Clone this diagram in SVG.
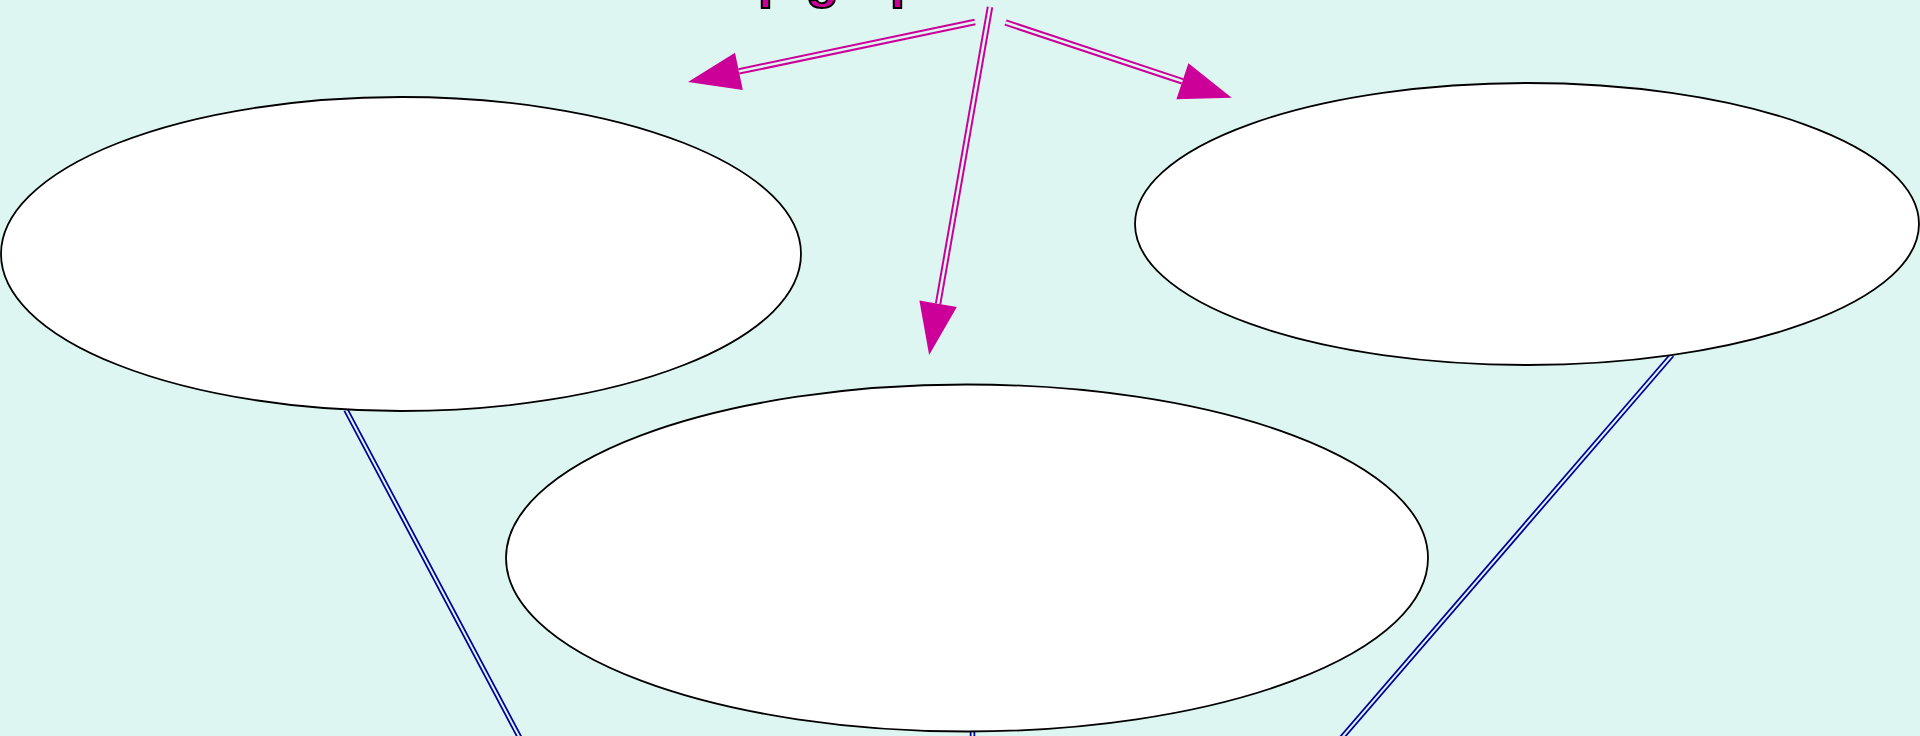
<svg xmlns="http://www.w3.org/2000/svg" width="1920" height="736" viewBox="0 0 1920 736">
<style>
.bg{fill:#ddf6f1}
.node{fill:#ffffff;stroke:#000000;stroke-width:1.8}
.arrowOuter{fill:none;stroke:#cc0099;stroke-width:6.5}
.arrowInner{fill:none;stroke:#ddf6f1;stroke-width:2.5}
.linkOuter{fill:none;stroke:#000099;stroke-width:5.5}
.linkInner{fill:none;stroke:#ddf6f1;stroke-width:2}
.title{font-family:"Liberation Sans",Arial,sans-serif;font-weight:bold;font-size:54px;fill:#cc0099;stroke:#000000;stroke-width:2}
</style>
<defs>
<marker id="head" markerUnits="userSpaceOnUse" markerWidth="52" markerHeight="38" refX="0" refY="19" orient="auto" overflow="visible">
<path d="M0,0 L52,19 L0,38 Z" fill="#cc0099"/>
</marker>
</defs>
<rect class="bg" x="0" y="0" width="1920" height="736"/>
<g id="connectors">
<path class="linkOuter" d="M346,410 L530,757"/>
<path class="linkOuter" d="M1672,355 L1326,756"/>
<path class="linkOuter" d="M972.5,725 L972.5,760"/>
<path class="linkInner" d="M346,410 L530,757"/>
<path class="linkInner" d="M1672,355 L1326,756"/>
<path class="linkInner" d="M972.5,725 L972.5,760"/>
<path class="arrowOuter" d="M975,22 L738.9,71.4" marker-end="url(#head)"/>
<path class="arrowOuter" d="M990,7 L938.1,303.8" marker-end="url(#head)"/>
<path class="arrowOuter" d="M1005.5,22.5 L1182.4,81.3" marker-end="url(#head)"/>
<path class="arrowInner" d="M975,22 L738.9,71.4"/>
<path class="arrowInner" d="M990,7 L938.1,303.8"/>
<path class="arrowInner" d="M1005.5,22.5 L1182.4,81.3"/>
</g>
<g id="root">
<text class="title" x="683" y="-3">Map graph</text>
</g>
<g id="node-left">
<ellipse class="node" cx="401" cy="254" rx="400" ry="157"/>
</g>
<g id="node-center">
<ellipse class="node" cx="967" cy="558" rx="461" ry="173.5"/>
</g>
<g id="node-right">
<ellipse class="node" cx="1527" cy="224" rx="392" ry="141"/>
</g>
</svg>
